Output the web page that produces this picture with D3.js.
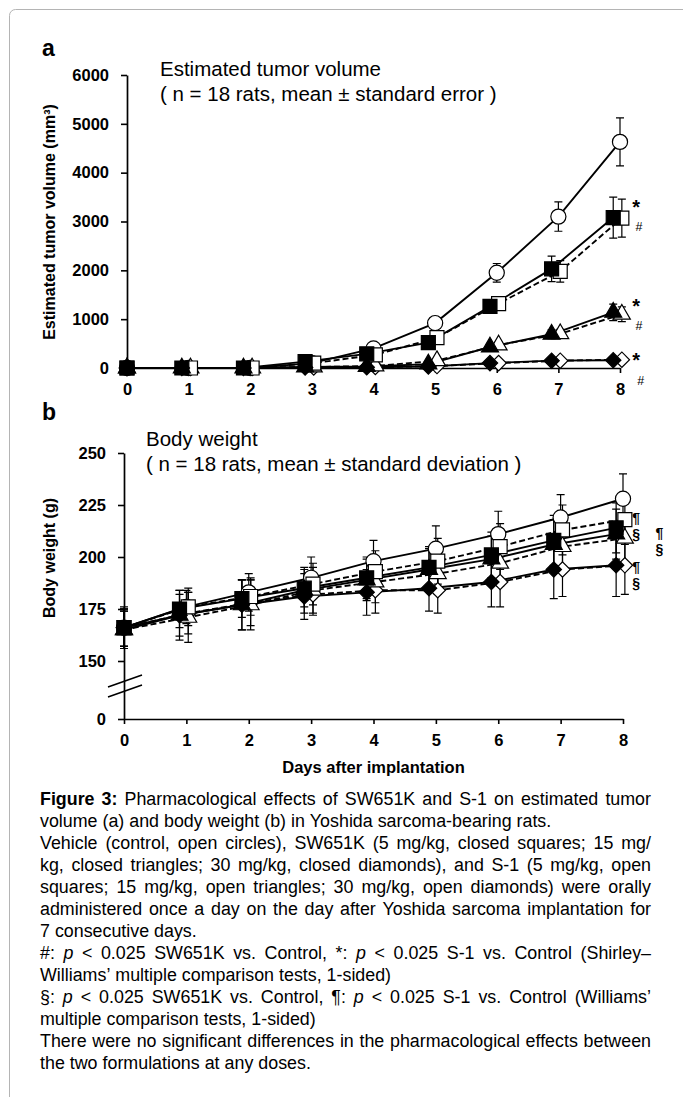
<!DOCTYPE html>
<html>
<head>
<meta charset="utf-8">
<script src="https://cdn.jsdelivr.net/npm/d3@7/dist/d3.min.js"></script>
<style>
  body { margin: 0; background: #fff; }
  svg text { font-family: "Liberation Sans", Arial, Helvetica, sans-serif; fill: #000; }
</style>
</head>
<body>
<svg id="fig" width="683" height="1097"></svg>
<script>
// ---- data ----
const DAYS = [0, 1, 2, 3, 4, 5, 6, 7, 8];

// (a) estimated tumor volume, mm3, mean and standard error
const TV_CONTROL    = [0, 0, 0, 100, 400, 920, 1950, 3100, 4630];
const TV_CONTROL_SE = [0, 0, 0, 15, 40, 90, 190, 300, 490];
const TV_SW5        = [0, 0, 0, 130, 290, 520, 1260, 2030, 3080];
const TV_SW5_SE     = [0, 0, 0, 15, 35, 70, 130, 260, 420];
const TV_SW15       = [0, 0, 0, 20, 30, 80, 430, 690, 1140];
const TV_SW15_SE    = [0, 0, 0, 5, 10, 20, 60, 90, 170];
const TV_SW30       = [0, 0, 0, 10, 15, 30, 100, 150, 160];
const TV_SW30_SE    = [0, 0, 0, 3, 5, 8, 20, 25, 30];
const TV_S5         = [0, 0, 0, 100, 270, 620, 1320, 1980, 3070];
const TV_S5_SE      = [0, 0, 0, 15, 35, 70, 130, 220, 390];
const TV_S15        = [0, 0, 0, 20, 40, 150, 470, 700, 1100];
const TV_S15_SE     = [0, 0, 0, 5, 10, 30, 60, 90, 150];
const TV_S30        = [0, 0, 0, 10, 20, 40, 100, 150, 170];
const TV_S30_SE     = [0, 0, 0, 3, 5, 10, 20, 25, 30];

// (b) body weight, g, mean and standard deviation
const BW_CONTROL    = [166, 176, 183, 190, 198, 204, 211, 219, 228];
const BW_CONTROL_SD = [10, 8, 9, 10, 10, 11, 11, 11, 12];
const BW_SW5        = [166, 175, 180, 185, 190, 195, 201, 208, 214];
const BW_SW5_SD     = [9, 9, 9, 9, 10, 10, 11, 12, 12];
const BW_SW15       = [165, 172, 177, 184, 189, 194, 199, 206, 211];
const BW_SW15_SD    = [9, 12, 12, 11, 10, 10, 11, 12, 12];
const BW_SW30       = [166, 172, 177, 181, 183, 185, 188, 194, 196];
const BW_SW30_SD    = [9, 10, 12, 11, 11, 11, 12, 14, 15];
const BW_S5         = [166, 176, 181, 187, 193, 198, 205, 213, 218];
const BW_S5_SD      = [9, 9, 9, 10, 10, 11, 11, 12, 12];
const BW_S15        = [165, 171, 177, 184, 188, 192, 197, 205, 209];
const BW_S15_SD     = [9, 12, 12, 11, 10, 10, 11, 12, 12];
const BW_S30        = [166, 173, 178, 182, 184, 184, 188, 194, 196];
const BW_S30_SD     = [9, 10, 11, 10, 11, 11, 12, 13, 14];

const TV_TICKS = [0, 1000, 2000, 3000, 4000, 5000, 6000];
const BW_TICKS = [0, 150, 175, 200, 225, 250];

// significance marks: symbol, day position, value position
const SIG_A_SYM   = ["*", "#", "*", "#", "*", "#"];
const SIG_A_DAY   = [8.2, 8.25, 8.2, 8.25, 8.2, 8.28];
const SIG_A_VALUE = [3400, 2900, 1390, 880, 270, -250];
const SIG_B_SYM   = ["¶", "§", "¶", "§", "¶", "§"];
const SIG_B_DAY   = [8.15, 8.15, 8.52, 8.52, 8.15, 8.15];
const SIG_B_VALUE = [218.7, 211.1, 211.5, 203.8, 195.2, 187.5];

const CAPTION_LINES = [
  "^Figure ^3: Pharmacological effects of SW651K and S-1 on estimated tumor",
  "volume (a) and body weight (b) in Yoshida sarcoma-bearing rats.",
  "Vehicle (control, open circles), SW651K (5 mg/kg, closed squares; 15 mg/",
  "kg, closed triangles; 30 mg/kg, closed diamonds), and S-1 (5 mg/kg, open",
  "squares; 15 mg/kg, open triangles; 30 mg/kg, open diamonds) were orally",
  "administered once a day on the day after Yoshida sarcoma implantation for",
  "7 consecutive days.",
  "#: ~p < 0.025 SW651K vs. Control, *: ~p < 0.025 S-1 vs. Control (Shirley–",
  "Williams’ multiple comparison tests, 1-sided)",
  "§: ~p < 0.025 SW651K vs. Control, ¶: ~p < 0.025 S-1 vs. Control (Williams’",
  "multiple comparison tests, 1-sided)",
  "There were no significant differences in the pharmacological effects between",
  "the two formulations at any doses."
];
const CAPTION_RAGGED = [1, 6, 8, 10, 12];

// ---- styles per group (drawing order: control, open, closed) ----
const STYLE = {
  control: { shape: "circle",   filled: false, dash: false, shift: 0 },
  s30:     { shape: "diamond",  filled: false, dash: true,  shift: 0.03 },
  s15:     { shape: "triangle", filled: false, dash: true,  shift: 0.03 },
  s5:      { shape: "square",   filled: false, dash: true,  shift: 0.03 },
  sw30:    { shape: "diamond",  filled: true,  dash: false, shift: -0.11 },
  sw15:    { shape: "triangle", filled: true,  dash: false, shift: -0.11 },
  sw5:     { shape: "square",   filled: true,  dash: false, shift: -0.11 }
};

const tumorSeries = [
  { key: "control", mean: TV_CONTROL, err: TV_CONTROL_SE },
  { key: "s30",  mean: TV_S30,  err: TV_S30_SE },
  { key: "s15",  mean: TV_S15,  err: TV_S15_SE },
  { key: "s5",   mean: TV_S5,   err: TV_S5_SE },
  { key: "sw30", mean: TV_SW30, err: TV_SW30_SE },
  { key: "sw15", mean: TV_SW15, err: TV_SW15_SE },
  { key: "sw5",  mean: TV_SW5,  err: TV_SW5_SE }
];
const weightSeries = [
  { key: "control", mean: BW_CONTROL, err: BW_CONTROL_SD },
  { key: "s30",  mean: BW_S30,  err: BW_S30_SD },
  { key: "s15",  mean: BW_S15,  err: BW_S15_SD },
  { key: "s5",   mean: BW_S5,   err: BW_S5_SD },
  { key: "sw30", mean: BW_SW30, err: BW_SW30_SD },
  { key: "sw15", mean: BW_SW15, err: BW_SW15_SD },
  { key: "sw5",  mean: BW_SW5,  err: BW_SW5_SD }
];

const svg = d3.select("#fig");

// page frame
svg.append("rect")
  .attr("x", 9.5).attr("y", 9.5).attr("width", 720).attr("height", 1120)
  .attr("rx", 6).attr("fill", "none").attr("stroke", "#b4b4b4");

const SYMBOLS = {
  circle:   d3.symbol().type(d3.symbolCircle).size(180),
  square:   d3.symbol().type(d3.symbolSquare).size(196),
  triangle: d3.symbol().type(d3.symbolTriangle).size(125),
  diamond:  d3.symbol().type(d3.symbolSquare).size(118)
};

function drawPanel(o) {
  const { x, y, series, yTicks } = o;
  const g = svg.append("g");
  const px = (key, d) => x(d + (d > 0 ? STYLE[key].shift : 0));

  // axes
  const yAxis = g.append("g").attr("transform", `translate(${x(0)},0)`)
    .call(d3.axisLeft(y).tickValues(yTicks).tickFormat(d3.format("d"))
      .tickSize(6).tickSizeOuter(0).tickPadding(12));
  const xAxis = g.append("g").attr("transform", `translate(0,${y(0)})`)
    .call(d3.axisBottom(x).tickValues(DAYS).tickSize(5).tickSizeOuter(0).tickPadding(10));
  [yAxis, xAxis].forEach(a => {
    a.select(".domain").attr("stroke-width", 1.7);
    a.selectAll(".tick line").attr("stroke-width", 1.6);
    a.selectAll("text").attr("font-size", 16.5).attr("font-weight", "bold")
      .attr("font-family", null);
  });

  // lines
  const line = d3.line();
  g.append("g").selectAll("path").data(series).join("path")
    .attr("d", s => line(DAYS.map((d, i) => [px(s.key, d), y(s.mean[i])])))
    .attr("fill", "none").attr("stroke", "#000").attr("stroke-width", 1.9)
    .attr("stroke-dasharray", s => STYLE[s.key].dash ? "6,3" : null);

  // error bars, then markers
  series.forEach(s => {
    const pts = DAYS.map((d, i) => ({ cx: px(s.key, d), m: s.mean[i], e: s.err[i] }))
      .filter(p => p.e > 0);
    g.append("g").attr("stroke", "#000").attr("stroke-width", 1.2)
      .selectAll("path").data(pts).join("path")
      .attr("d", p => {
        const y1 = y(p.m + p.e), y2 = y(p.m - p.e);
        return `M${p.cx},${y1}V${y2}M${p.cx - 4},${y1}H${p.cx + 4}M${p.cx - 4},${y2}H${p.cx + 4}`;
      });
  });
  series.forEach(s => {
    const st = STYLE[s.key];
    g.append("g").selectAll("path").data(DAYS).join("path")
      .attr("d", SYMBOLS[st.shape])
      .attr("transform", (d, i) => `translate(${px(s.key, d)},${y(s.mean[i])})` +
        (st.shape === "diamond" ? " rotate(45)" : ""))
      .attr("fill", st.filled ? "#000" : "#fff")
      .attr("stroke", "#000").attr("stroke-width", 1.2);
  });
  return g;
}

// ---- panel a ----
const xA = d3.scaleLinear().domain([0, 8]).range([127, 620]);
const yA = d3.scaleLinear().domain([0, 6000]).range([368, 75]);
const gA = drawPanel({ x: xA, y: yA, series: tumorSeries, yTicks: TV_TICKS });

svg.append("text").attr("x", 42).attr("y", 56).attr("font-size", 23)
  .attr("font-weight", "bold").text("a");
svg.append("text").attr("x", 160).attr("y", 76).attr("font-size", 20.5)
  .text("Estimated tumor volume");
svg.append("text").attr("x", 160).attr("y", 101).attr("font-size", 20.5)
  .text("( n = 18 rats, mean ± standard error )");
svg.append("text").attr("transform", "translate(55,222) rotate(-90)")
  .attr("text-anchor", "middle").attr("font-size", 16).attr("font-weight", "bold")
  .text("Estimated tumor volume (mm³)");

gA.append("g").selectAll("text").data(SIG_A_SYM).join("text")
  .attr("x", (d, i) => xA(SIG_A_DAY[i]))
  .attr("y", (d, i) => yA(SIG_A_VALUE[i]))
  .attr("dy", d => d === "*" ? "0.62em" : "0.36em")
  .attr("font-size", d => d === "*" ? 20 : 12.5)
  .attr("font-weight", d => d === "*" ? "bold" : "normal")
  .text(d => d);

// ---- panel b ----
const xB = d3.scaleLinear().domain([0, 8]).range([124, 623]);
const yB = d3.scaleLinear().domain([0, 150, 250]).range([719, 661, 453]);
const gB = drawPanel({ x: xB, y: yB, series: weightSeries, yTicks: BW_TICKS });

// axis break
const yb = yB(0) - 0.57 * (yB(0) - yB(150));
gB.append("path")
  .attr("d", `M${xB(0) - 16},${yb + 1}L${xB(0) + 18},${yb - 11}M${xB(0) - 16},${yb + 11}L${xB(0) + 18},${yb - 1}`)
  .attr("stroke", "#000").attr("stroke-width", 1.6);

svg.append("text").attr("x", 42).attr("y", 420).attr("font-size", 23)
  .attr("font-weight", "bold").text("b");
svg.append("text").attr("x", 146).attr("y", 446).attr("font-size", 20.5)
  .text("Body weight");
svg.append("text").attr("x", 146).attr("y", 471).attr("font-size", 20.5)
  .text("( n = 18 rats, mean ± standard deviation )");
svg.append("text").attr("transform", "translate(55,558) rotate(-90)")
  .attr("text-anchor", "middle").attr("font-size", 16).attr("font-weight", "bold")
  .text("Body weight (g)");
svg.append("text").attr("x", (xB(0) + xB(8)) / 2).attr("y", 773)
  .attr("text-anchor", "middle").attr("font-size", 16.5).attr("font-weight", "bold")
  .text("Days after implantation");

gB.append("g").selectAll("text").data(SIG_B_SYM).join("text")
  .attr("x", (d, i) => xB(SIG_B_DAY[i]))
  .attr("y", (d, i) => yB(SIG_B_VALUE[i]))
  .attr("dy", "0.36em").attr("font-size", 14).attr("font-weight", "bold")
  .text(d => d);

// ---- caption, justified word by word ----
const CAP_X0 = 40, CAP_X1 = 651, CAP_Y0 = 805, CAP_LH = 22;
const cap = svg.append("g");
const capLines = CAPTION_LINES.map((ln, li) => {
  const words = ln.split(" ").map(w => {
    if (w.startsWith("^")) return { t: w.slice(1), b: true };
    if (w.startsWith("~")) return { t: w.slice(1), i: true };
    return { t: w };
  });
  const nodes = words.map(w => cap.append("text")
    .attr("y", CAP_Y0 + li * CAP_LH)
    .attr("font-weight", w.b ? "bold" : null)
    .attr("font-style", w.i ? "italic" : null)
    .text(w.t));
  return { li, nodes, ragged: CAPTION_RAGGED.includes(li) };
});
// size the caption so its fullest line just fills the column
const measure = fs => {
  cap.attr("font-size", fs);
  return d3.max(capLines.filter(l => !l.ragged), l =>
    d3.sum(l.nodes, n => n.node().getComputedTextLength()) + (l.nodes.length - 1) * fs * 0.278);
};
const CAP_FS = 15 * (CAP_X1 - CAP_X0) / measure(15) * 0.99;
cap.attr("font-size", CAP_FS);
capLines.forEach(l => {
  const widths = l.nodes.map(n => n.node().getComputedTextLength());
  const gap = l.ragged ? CAP_FS * 0.278
    : (CAP_X1 - CAP_X0 - d3.sum(widths)) / (l.nodes.length - 1);
  let cx = CAP_X0;
  l.nodes.forEach((n, k) => { n.attr("x", cx); cx += widths[k] + gap; });
});
</script>
</body>
</html>
